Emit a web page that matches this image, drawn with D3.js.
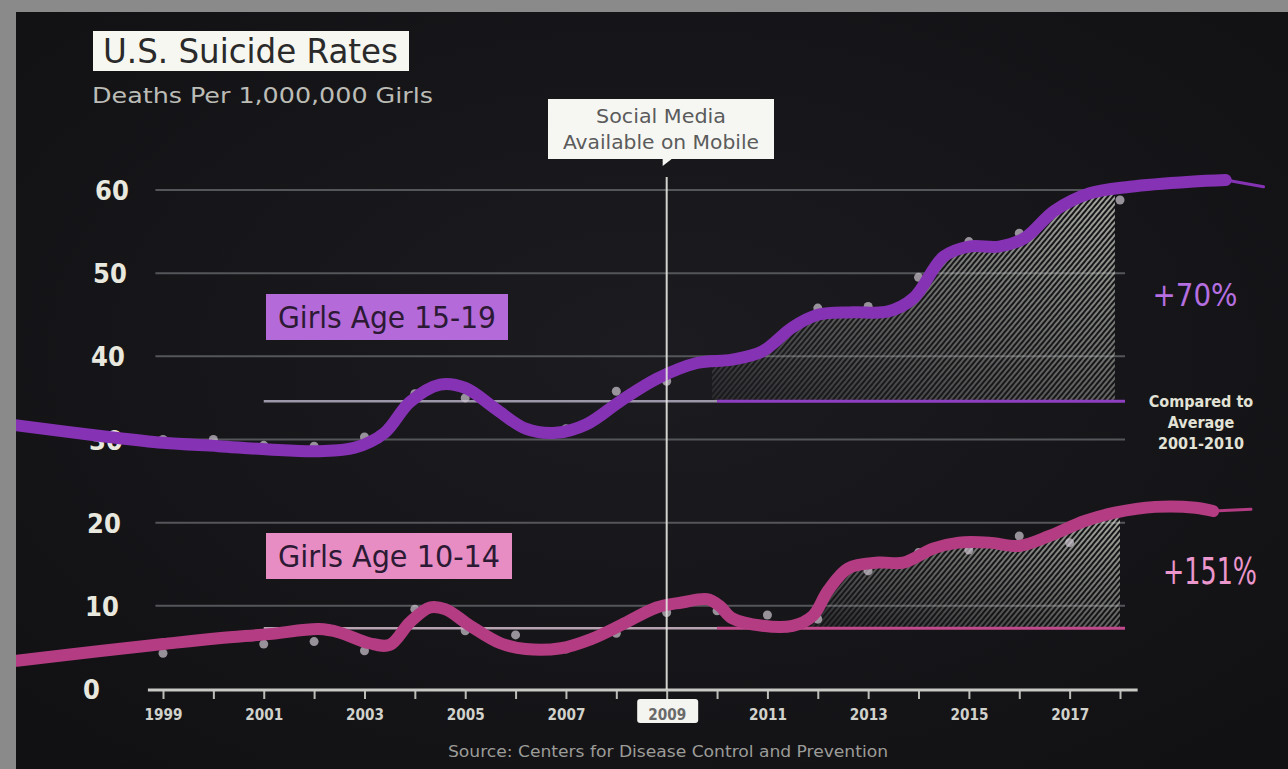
<!DOCTYPE html>
<html>
<head>
<meta charset="utf-8">
<script src="https://cdn.jsdelivr.net/npm/d3@7"></script>
<style>
  body { margin: 0; background: #8a8a8a; }
  svg { display: block; }
  text { font-family: "DejaVu Sans Condensed", "Liberation Sans Narrow", "DejaVu Sans", sans-serif; font-stretch: condensed; }
</style>
</head>
<body>
<svg id="chart" width="1288" height="769"></svg>
<script>
// yearly data points (deaths per 1,000,000 girls)
const years = d3.range(1999, 2019);
const teenRates  = [30.0, 30.0, 29.3, 29.2, 30.3, 35.5, 35.0, 32.0, 31.3, 35.8, 37.0, 39.6, 40.8, 45.8, 46.0, 49.5, 53.8, 54.8, 58.5, 58.8];
const tweenRates = [4.3, 6.1, 5.4, 5.7, 4.6, 9.6, 7.0, 6.5, 4.8, 6.7, 9.2, 9.4, 8.9, 8.4, 14.2, 16.4, 16.7, 18.4, 17.6, 21.4];

// smoothed trend lines as drawn on the slide
const teenTrendYears = [1996.1, 1997.8, 1999, 2000.1, 2001.1, 2002.1, 2002.8, 2003.4, 2003.9, 2004.5, 2005.0, 2005.6, 2006.2, 2006.8, 2007.4, 2008.1, 2008.8, 2009.6, 2010.3, 2010.9, 2011.5, 2012.0, 2012.7, 2013.4, 2013.9, 2014.5, 2015.0, 2015.6, 2016.1, 2016.7, 2017.4, 2018.2, 2019.4, 2020.1];
const teenTrend      = [31.7, 30.4, 29.6, 29.2, 28.8, 28.6, 29.0, 30.8, 34.5, 36.6, 36.2, 33.7, 31.3, 30.8, 31.8, 34.7, 37.3, 39.2, 39.6, 40.6, 43.5, 45.0, 45.3, 45.4, 47.0, 52.0, 53.2, 53.2, 54.2, 57.5, 59.6, 60.4, 61.0, 61.2];
const teenTailYears  = [2020.1, 2020.85];
const teenTail       = [61.2, 60.4];

const tweenTrendYears = [1996.1, 1997.8, 1999, 2000.1, 2001.1, 2002.1, 2002.5, 2003.1, 2003.5, 2003.9, 2004.3, 2004.6, 2005.1, 2005.7, 2006.2, 2006.9, 2007.5, 2008.1, 2008.8, 2009.3, 2009.8, 2010.05, 2010.3, 2010.9, 2011.5, 2011.9, 2012.2, 2012.6, 2013.2, 2013.7, 2014.3, 2014.8, 2015.4, 2016.0, 2016.6, 2017.3, 2017.9, 2018.7, 2019.5, 2019.85];
const tweenTrend      = [3.4, 4.6, 5.4, 6.1, 6.6, 7.2, 6.8, 5.5, 5.3, 8.0, 9.8, 9.6, 7.6, 5.5, 4.8, 4.9, 6.0, 7.7, 9.8, 10.4, 10.8, 10.0, 8.5, 7.6, 7.6, 8.8, 11.8, 14.5, 15.2, 15.2, 16.9, 17.6, 17.6, 17.2, 18.4, 20.2, 21.2, 21.9, 21.8, 21.4];
const tweenTailYears  = [2019.85, 2020.6];
const tweenTail       = [21.4, 21.6];

// average 2001-2010 reference lines
const teenAverage = 34.6;
const tweenAverage = 7.3;
const averageStart = 2001, averageSplit = 2010, averageEnd = 2018.1;

// shaded increase ranges
const teenHatch = [2009.9, 2017.9];
const tweenHatch = [2011.8, 2018.0];

const yTicks = [0, 10, 20, 30, 40, 50, 60];
const gridTicks = [10, 20, 30, 40, 50, 60];
const gridRange = [1998.85, 2018.1];
const axisRange = [1998.7, 2018.35];
const markerYear = 2009;

const purple = "#8632b5", pink = "#b43c82";

const svg = d3.select("#chart");
const x = d3.scaleLinear().domain([1999, 2018]).range([163, 1120]);
const y = d3.scaleLinear().domain([0, 60]).range([689, 190]);

const defs = svg.append("defs");

const bg = defs.append("radialGradient").attr("id", "bg").attr("cx", "50%").attr("cy", "45%").attr("r", "70%");
bg.append("stop").attr("offset", "0%").attr("stop-color", "#1c1c20");
bg.append("stop").attr("offset", "100%").attr("stop-color", "#111114");

defs.append("clipPath").attr("id", "panel")
  .append("rect").attr("x", 16).attr("y", 12).attr("width", 1272).attr("height", 757);

const hatch = defs.append("pattern").attr("id", "hatch")
    .attr("patternUnits", "userSpaceOnUse")
    .attr("width", 4).attr("height", 4)
    .attr("patternTransform", "rotate(40)");
hatch.append("line").attr("x1", 1).attr("y1", 0).attr("x2", 1).attr("y2", 4)
    .attr("stroke", "#d8dccf").attr("stroke-width", 1.5);

const fade = defs.append("linearGradient").attr("id", "fade")
    .attr("x1", 0).attr("y1", 1).attr("x2", 0.8).attr("y2", 0);
fade.append("stop").attr("offset", "0%").attr("stop-color", "#fff").attr("stop-opacity", 0.12);
fade.append("stop").attr("offset", "100%").attr("stop-color", "#fff").attr("stop-opacity", 0.95);

// background panel
svg.append("rect").attr("x", 16).attr("y", 12).attr("width", 1272).attr("height", 757).attr("fill", "url(#bg)");

const g = svg.append("g").attr("clip-path", "url(#panel)");

// gridlines
g.append("g").selectAll("line").data(gridTicks).join("line")
    .attr("x1", x(gridRange[0])).attr("x2", x(gridRange[1]))
    .attr("y1", d => y(d)).attr("y2", d => y(d))
    .attr("stroke", "#55565a").attr("stroke-width", 2);

// y labels
g.append("g").selectAll("text").data(yTicks).join("text")
    .attr("x", d => 83 + d * 0.2)
    .attr("y", d => y(d) + 10)
    .attr("fill", "#e8e8de")
    .attr("font-size", 27).attr("font-weight", "bold")
    .text(d => d);

// hatched increase areas
function hatchArea(id, yrs, vals, avg, range) {
  const pts = yrs.map((yr, i) => ({ year: yr, value: vals[i] }));
  defs.append("clipPath").attr("id", id + "-clip")
    .append("rect").attr("x", x(range[0])).attr("width", x(range[1]) - x(range[0]))
    .attr("y", 0).attr("height", y(avg));
  const top = y(d3.max(vals));
  const mask = defs.append("mask").attr("id", id + "-mask");
  mask.append("rect").attr("x", x(range[0])).attr("width", x(range[1]) - x(range[0]))
    .attr("y", top).attr("height", y(avg) - top).attr("fill", "url(#fade)");
  const area = d3.area().x(d => x(d.year)).y0(y(avg)).y1(d => y(d.value) + 4).curve(d3.curveCatmullRom);
  g.append("path").datum(pts)
    .attr("d", area)
    .attr("fill", "url(#hatch)")
    .attr("clip-path", `url(#${id}-clip)`)
    .attr("mask", `url(#${id}-mask)`);
}
hatchArea("teen", teenTrendYears, teenTrend, teenAverage, teenHatch);
hatchArea("tween", tweenTrendYears, tweenTrend, tweenAverage, tweenHatch);

// average lines
function averageLine(avg, grey, color) {
  g.append("line").attr("x1", x(averageStart)).attr("x2", x(averageSplit))
    .attr("y1", y(avg)).attr("y2", y(avg)).attr("stroke", grey).attr("stroke-width", 2.5);
  g.append("line").attr("x1", x(averageSplit)).attr("x2", x(averageEnd))
    .attr("y1", y(avg)).attr("y2", y(avg)).attr("stroke", color).attr("stroke-width", 3);
}
averageLine(teenAverage, "#9d97aa", "#8f3fc2");
averageLine(tweenAverage, "#b7a3b1", "#c04a8c");

// data dots
function dots(vals) {
  g.append("g").selectAll("circle").data(vals).join("circle")
    .attr("cx", (d, i) => x(years[i])).attr("cy", d => y(d)).attr("r", 4.5)
    .attr("fill", "#cfc6d2").attr("opacity", 0.7);
}
dots(teenRates);
dots(tweenRates);

// trend lines
function trend(yrs, vals, tailYrs, tail, color) {
  const line = d3.line().x(d => x(d[0])).y(d => y(d[1])).curve(d3.curveCatmullRom);
  g.append("path").datum(tailYrs.map((yr, i) => [yr, tail[i]]))
    .attr("d", line).attr("fill", "none").attr("stroke", color).attr("stroke-width", 3).attr("stroke-linecap", "round");
  g.append("path").datum(yrs.map((yr, i) => [yr, vals[i]]))
    .attr("d", line).attr("fill", "none").attr("stroke", color)
    .attr("stroke-width", 12).attr("stroke-linecap", "round").attr("stroke-linejoin", "round");
}
trend(teenTrendYears, teenTrend, teenTailYears, teenTail, purple);
trend(tweenTrendYears, tweenTrend, tweenTailYears, tweenTail, pink);

// x axis
const axis = g.append("g").attr("transform", `translate(0,${y(0) + 1})`)
  .call(d3.axisBottom(x).tickValues(years).tickSize(9).tickPadding(10).tickFormat(d => d % 2 ? d : ""));
axis.select(".domain").remove();
axis.append("line").attr("x1", x(axisRange[0])).attr("x2", x(axisRange[1]))
  .attr("stroke", "#c8c8c4").attr("stroke-width", 3);
axis.selectAll(".tick line").attr("stroke", "#bdbdb8").attr("stroke-width", 2);
axis.selectAll(".tick text").attr("fill", "#d2d2cc").attr("font-size", 16).attr("font-weight", "bold")
  .style("font-family", "'DejaVu Sans Condensed', 'Liberation Sans Narrow', 'DejaVu Sans', sans-serif")
  .attr("textLength", d => d % 2 ? 38 : null).attr("lengthAdjust", "spacingAndGlyphs");

// highlight 2009 label
const t09 = axis.selectAll(".tick").filter(d => d === markerYear);
t09.insert("rect", "text").attr("x", -30).attr("y", 9).attr("width", 61).attr("height", 24).attr("rx", 3).attr("fill", "#f4f4f0");
t09.select("text").attr("fill", "#6a6a6a");

// marker line
g.append("line").attr("x1", x(markerYear)).attr("x2", x(markerYear))
  .attr("y1", 177).attr("y2", y(0))
  .attr("stroke", "#e6e6e2").attr("stroke-width", 2).attr("opacity", 0.9);

// annotation box
const note = svg.append("g");
note.append("path")
  .attr("d", `M548,99 H774 V159 H${x(markerYear) + 5} L${x(markerYear) - 4},166 L${x(markerYear) - 4},159 H548 Z`)
  .attr("fill", "#f6f7f3");
note.append("text").attr("x", 661).attr("y", 123).attr("text-anchor", "middle")
  .attr("font-size", 19).attr("fill", "#5b5b5b").attr("textLength", 130).attr("lengthAdjust", "spacingAndGlyphs").text("Social Media");
note.append("text").attr("x", 661).attr("y", 149).attr("text-anchor", "middle")
  .attr("font-size", 19).attr("fill", "#5b5b5b").attr("textLength", 196).attr("lengthAdjust", "spacingAndGlyphs").text("Available on Mobile");

// title
svg.append("rect").attr("x", 93).attr("y", 31).attr("width", 316).attr("height", 40).attr("fill", "#f6f7f0");
svg.append("text").attr("x", 103).attr("y", 63).attr("font-size", 33).attr("fill", "#2a2a2a")
  .attr("textLength", 295).attr("lengthAdjust", "spacingAndGlyphs").text("U.S. Suicide Rates");
svg.append("text").attr("x", 92).attr("y", 103).attr("font-size", 22).attr("fill", "#bcbcb6")
  .attr("textLength", 341).attr("lengthAdjust", "spacingAndGlyphs").text("Deaths Per 1,000,000 Girls");

// series labels
function seriesLabel(text, bx, by, w, fill) {
  svg.append("rect").attr("x", bx).attr("y", by).attr("width", w).attr("height", 46).attr("fill", fill);
  svg.append("text").attr("x", bx + 12).attr("y", by + 34).attr("font-size", 30).attr("fill", "#2c1a34")
    .attr("textLength", w - 24).attr("lengthAdjust", "spacingAndGlyphs").text(text);
}
seriesLabel("Girls Age 15-19", 266, 294, 242, "#b46ad9");
seriesLabel("Girls Age 10-14", 266, 533, 246, "#e78dc4");

// right annotations
svg.append("text").attr("x", 1195).attr("y", 306).attr("text-anchor", "middle").attr("font-size", 32)
  .attr("fill", "#b56fe0").attr("textLength", 85).attr("lengthAdjust", "spacingAndGlyphs").text("+70%");
svg.append("text").attr("x", 1210).attr("y", 584).attr("text-anchor", "middle").attr("font-size", 37)
  .attr("fill", "#eb96cc").attr("textLength", 94).attr("lengthAdjust", "spacingAndGlyphs").text("+151%");
const cmp = ["Compared to", "Average", "2001-2010"];
svg.append("g").selectAll("text").data(cmp).join("text")
  .attr("x", 1201).attr("y", (d, i) => 407 + i * 21).attr("text-anchor", "middle")
  .attr("font-size", 16).attr("font-weight", "bold").attr("fill", "#e2e2d6")
  .text(d => d);

// source
svg.append("text").attr("x", 668).attr("y", 757).attr("text-anchor", "middle").attr("font-size", 16)
  .attr("fill", "#9c9c98").attr("textLength", 440).attr("lengthAdjust", "spacingAndGlyphs")
  .text("Source: Centers for Disease Control and Prevention");
</script>
</body>
</html>
